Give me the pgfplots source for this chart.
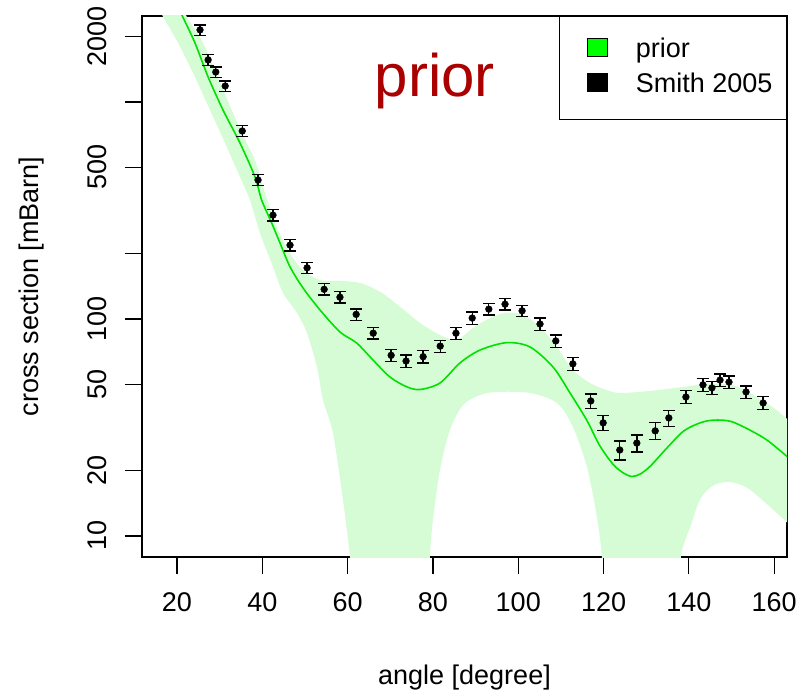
\documentclass[border=0pt]{standalone}
\usepackage{pgfplots}
\pgfplotsset{compat=1.18}
\usepgfplotslibrary{fillbetween}
\usepackage{fontspec}
\setmainfont{Liberation Sans}
\definecolor{bandgreen}{RGB}{214,252,214}
\definecolor{linegreen}{RGB}{0,225,0}
\definecolor{titlered}{RGB}{170,0,0}
\newcommand{\lbl}{\fontsize{27}{32}\selectfont}
\begin{document}
\begin{tikzpicture}
\begin{axis}[
  at={(0pt,0pt)}, anchor=south west,
  scale only axis, width=645pt, height=541pt,
  xmin=11.8, xmax=163.0, ymode=log, ymin=8.0, ymax=2490,
  axis line style={black, line width=1.2pt},
  tick pos=left, tick align=outside, major tick length=17pt,
  every tick/.style={black, line width=1.2pt},
  xtick={20,40,60,80,100,120,140,160},
  xticklabels={20,40,60,80,100,120,140,160},
  ytick={10,20,50,100,200,500,1000,2000},
  yticklabels={10,20,50,100,,500,,2000},
  yminorticks=false,
  ticklabel style={font=\lbl, inner sep=0pt},
  xticklabel style={anchor=north},
  yticklabel style={rotate=90, anchor=south},
  xticklabel shift=18pt, yticklabel shift=18pt,
  xlabel={angle [degree]}, ylabel={cross section [mBarn]},
  label style={font=\lbl, inner sep=0pt},
  xlabel style={at={(axis description cs:0.5,-0.2348)}, anchor=base},
  ylabel style={at={(axis description cs:-0.1612,0.5)}, anchor=base},
  legend cell align=left,
  legend style={at={(1,1)}, anchor=north east, draw=black, line width=1.2pt,
    fill=white, font=\lbl, inner xsep=14pt, inner ysep=21pt, row sep=9pt,
    nodes={inner sep=0pt, text height=20pt, text depth=6pt},
    /tikz/every odd column/.append style={column sep=28pt}},
]
\addlegendimage{legend image code/.code={\path (0pt,0pt); \draw[black, line width=0.8pt, fill=green] (13pt,-6pt) rectangle (33pt,12pt);}}
\addlegendentry{prior}
\addlegendimage{legend image code/.code={\path (0pt,0pt); \draw[black, line width=0.8pt, fill=black] (13pt,-6pt) rectangle (33pt,12pt);}}
\addlegendentry{Smith 2005}

\addplot[draw=none, name path=up, smooth, forget plot] coordinates {
(21.41,2800) (22.28,2472) (26.1,1871) (29.61,1303) (32.82,918) (36.34,647)
(38.28,540) (40.63,381) (43.37,266) (46.49,201) (49.53,168) (53.52,151)
(58.2,150) (62.89,146.6) (67.58,133.6) (72.26,114) (76.95,95.9) (81.64,84.4)
(85.55,80) (89.37,90.9) (93.36,101) (97.27,107) (101.09,104.3) (105.07,92.2)
(108.99,74.5) (112.81,58.2) (116.79,50.7) (120.7,47.1) (123.82,45.6)
(130.85,46.6) (138.58,48.6) (144.21,50.2) (150.3,49.6) (155.9,43.7)
(160.2,38.5) (163.5,34.0)
};
\addplot[draw=none, name path=lo, smooth, forget plot] coordinates {
(16.02,2655) (16.72,2472) (20.24,1871) (24.22,1303) (27.74,918) (31.25,647)
(34.77,451) (37.11,353) (39.45,249) (42.5,174) (44.84,132) (48.13,106.6)
(50.47,86.1) (52.81,60.1) (54.22,42.4) (56.56,29.8) (58.91,14.65) (60.55,8.0)
(61.72,4.1) (69.92,0.5) (78.83,4.1) (79.3,8.0) (80.0,11.85) (81.64,20.1)
(83.98,30.8) (87.03,40.1) (91.01,44.6) (95.0,46.1) (102.73,45.6) (109.06,41.0)
(112.81,31.8) (116.09,20.8) (118.43,12.24) (119.6,8.0) (120.3,4.1) (128.5,0.5)
(137.4,4.1) (138.12,8.0) (140.46,11.2) (142.8,14.96) (145.97,17.2)
(149.83,17.7) (153.82,16.6) (158.5,13.9) (163.5,11.3)
};
\addplot[bandgreen, forget plot] fill between[of=up and lo];

\addplot[linegreen, line width=1.6pt, smooth, forget plot] coordinates {
(18.97,3112) (21.34,2472) (24.22,1871) (27.27,1308) (30.79,918) (34.77,647)
(38.29,451) (39.85,353) (42.2,277) (44.15,224) (46.49,174) (49.54,139)
(53.53,110) (58.21,87.1) (62.13,77.5) (65.95,64.7) (69.93,54.0) (73.85,48.7)
(76.97,47.3) (81.66,50.7) (86.34,62.7) (91.03,71.9) (97.29,77.8) (102.75,74.3)
(108.14,60.1) (112.13,45.6) (116.04,34.2) (119.14,26.0) (122.3,21.3)
(124.67,19.5) (126.64,18.8) (128.6,19.3) (130.97,21.0) (134.9,25.5)
(138.82,30.5) (142.8,33.3) (145.97,34.2) (149.9,33.7) (154.64,30.5)
(158.6,27.4) (163.5,22.8)
};

\addplot[only marks, mark=*, mark size=3.4pt, black, forget plot,
  error bars/.cd, y dir=both, y explicit relative,
  error bar style={black, line width=1.3pt},
  error mark options={black, line width=1.3pt, mark size=6pt, rotate=90}]
coordinates {
(25.4,2148) +- (0,0.055)
(27.3,1563) +- (0,0.06)
(29.1,1374) +- (0,0.055)
(31.3,1185) +- (0,0.055)
(35.3,735) +- (0,0.06)
(39.0,437) +- (0,0.06)
(42.5,301) +- (0,0.06)
(46.5,219) +- (0,0.06)
(50.5,172) +- (0,0.06)
(54.5,137) +- (0,0.06)
(58.2,126) +- (0,0.06)
(62.0,105) +- (0,0.06)
(66.0,86) +- (0,0.06)
(70.2,68) +- (0,0.065)
(73.7,64) +- (0,0.065)
(77.7,67) +- (0,0.065)
(81.7,75) +- (0,0.065)
(85.4,86) +- (0,0.065)
(89.2,101) +- (0,0.065)
(93.1,111) +- (0,0.06)
(96.9,117) +- (0,0.06)
(100.9,109) +- (0,0.06)
(105.1,94.8) +- (0,0.065)
(108.8,79.2) +- (0,0.065)
(112.8,62.1) +- (0,0.07)
(117.0,41.9) +- (0,0.075)
(119.9,33.2) +- (0,0.08)
(123.8,24.9) +- (0,0.1)
(127.8,26.8) +- (0,0.09)
(132.1,30.5) +- (0,0.09)
(135.3,35.0) +- (0,0.085)
(139.3,43.7) +- (0,0.07)
(143.3,49.7) +- (0,0.07)
(145.4,48.1) +- (0,0.07)
(147.3,52.3) +- (0,0.065)
(149.4,51.2) +- (0,0.065)
(153.4,46.1) +- (0,0.065)
(157.4,41.0) +- (0,0.07)
};

\node[anchor=base, font=\fontsize{60}{70}\selectfont, text=titlered]
  at (axis description cs:0.454,0.852) {prior};
\end{axis}
\pgfresetboundingbox
\path[use as bounding box] (-142pt,-138pt) rectangle (657pt,557pt);
\end{tikzpicture}
\end{document}
